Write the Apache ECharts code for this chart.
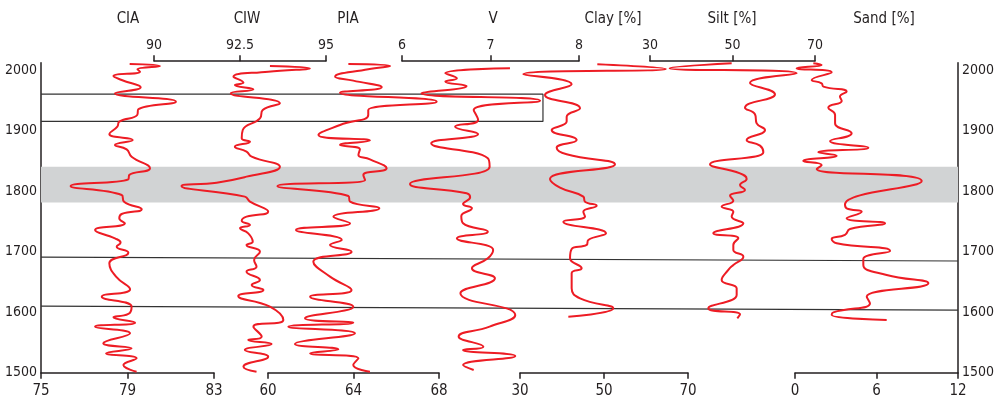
<!DOCTYPE html>
<html><head><meta charset="utf-8">
<script src="https://cdn.jsdelivr.net/npm/echarts@6/dist/echarts.min.js"></script>
<style>html,body{margin:0;padding:0;background:#fff}#c{width:994px;height:401px}</style>
</head><body><div id="c"></div>
<script>
// ---- data: [year, value] ----
const cia = [[2010,79.1],[2006.6,80.5],[2001,79.46],[1997,79.58],[1990,78.35],[1983.5,78.73],[1971.4,79.61],[1961.5,78.42],[1947.7,81.24],[1935,79.5],[1925.6,79.45],[1914.6,78.62],[1906.4,78.53],[1894.3,78.16],[1884.4,79.24],[1876.1,78.42],[1868.9,78.96],[1856.8,79.19],[1837.5,80.04],[1826.5,79.08],[1819.4,79.04],[1808.4,76.37],[1793.5,78.73],[1782.5,78.84],[1769.8,79.66],[1762.1,78.73],[1755,78.62],[1746.7,78.88],[1735.7,77.5],[1721.9,78.42],[1714.8,78.68],[1708.2,78.5],[1698.3,79.04],[1680.6,78.16],[1658.6,78.47],[1637.7,79.12],[1625.6,77.81],[1609.1,79.19],[1597,79.04],[1591.5,78.35],[1582.6,79.35],[1576,77.5],[1565,79.12],[1548.5,77.88],[1540.2,79.19],[1532,78.01],[1523.7,79.42],[1512.7,78.81],[1501.7,79.42]];
const ciw = [[2006.6,93.37],[2002.7,94.53],[1997.2,93.32],[1989,92.31],[1979.1,92.6],[1975.2,92.35],[1968,92.89],[1961.5,92.23],[1944.9,93.66],[1933.9,93.16],[1920.1,93.08],[1900.9,92.58],[1887.1,92.55],[1881.6,92.79],[1873.3,92.35],[1865.1,92.69],[1856.8,92.84],[1840.3,93.66],[1823.8,92.69],[1813.9,91.82],[1808.4,90.8],[1790.8,92.64],[1782.5,92.79],[1766,93.32],[1757.7,92.69],[1751.1,92.55],[1744,92.79],[1738.4,92.5],[1730.2,92.74],[1716.4,92.87],[1710.9,92.69],[1699.9,93.08],[1686.1,92.91],[1675.1,92.98],[1666.9,92.69],[1653.1,93.08],[1644.9,92.84],[1636.6,93.18],[1626.7,92.45],[1609.1,93.37],[1587,93.76],[1576,92.89],[1559.5,93.13],[1554,92.74],[1547.4,93.42],[1537.5,92.64],[1526.5,93.32],[1510,92.6],[1501.7,92.98]];
const pia = [[2009.9,63.76],[2006.6,65.71],[2001.1,64.69],[1989,63.14],[1982.4,63.99],[1971.4,65.32],[1962.5,63.37],[1947.7,67.89],[1933.9,64.69],[1925.6,64.69],[1909.1,63.37],[1892.6,62.36],[1883.3,64.77],[1876.1,63.37],[1868.9,64.3],[1859.6,64.23],[1852.4,64.77],[1837.5,65.55],[1826.5,64.46],[1818.3,64.54],[1808.4,60.44],[1791.9,63.76],[1782.5,63.84],[1771.5,65.21],[1757.7,63.06],[1746.7,63.84],[1735.7,61.31],[1719.2,63.45],[1710.9,62.9],[1699.9,63.91],[1683.4,62.12],[1658.6,62.9],[1636.6,63.91],[1625.6,61.97],[1609.1,63.99],[1589.8,61.73],[1582.6,63.99],[1576,60.95],[1565,64.07],[1547.4,61.26],[1538.6,63.29],[1532,61.97],[1523.7,64.23],[1512.7,63.99],[1501.7,64.77]];
const v = [[2002.7,7.22],[1994.5,6.49],[1986.2,6.62],[1980.7,6.49],[1973.6,6.73],[1961.5,6.22],[1949.3,7.56],[1933.9,6.81],[1917.4,6.86],[1906.4,6.6],[1894.3,6.86],[1878.9,6.33],[1854.1,6.97],[1840.3,6.99],[1811.7,6.09],[1796.3,6.73],[1789.7,6.77],[1778.6,6.69],[1771.5,6.79],[1758.8,6.67],[1746.7,6.69],[1733,6.97],[1721.9,6.62],[1702.7,7.03],[1688.9,6.97],[1672.4,6.79],[1655.9,7.05],[1631.1,6.66],[1595.3,7.28],[1576,6.99],[1559.5,6.64],[1543,6.92],[1537.5,6.69],[1527.6,7.28],[1512.7,6.69],[1504.4,6.81]];
const clay = [[2009.4,48.41],[2001.7,64.69],[1992.9,30.79],[1976.3,42.3],[1958.7,35.95],[1936.7,44.29],[1922.9,41.11],[1914.7,41.11],[1900.9,37.54],[1884.4,43.49],[1871.7,38.73],[1860.7,41.11],[1844.2,52.62],[1820,37.14],[1805.7,39.52],[1790.8,45.08],[1782.5,45.48],[1775.9,48.25],[1766,45.08],[1757.8,45.48],[1749.5,40.32],[1730.2,50.48],[1719.2,46.27],[1711,45.87],[1704.3,42.3],[1688.9,41.91],[1672.4,44.68],[1664.2,42.3],[1639.4,42.3],[1622.9,44.29],[1606.3,52.22],[1592.6,41.51]];
const silt = [[2011,49.8],[2002.8,34.77],[1994.5,65.56],[1978.6,54.24],[1959.8,60.3],[1937.8,53.03],[1926.8,55.45],[1911.9,55.86],[1900.9,57.88],[1884.4,53.43],[1875,56.67],[1864,57.48],[1844.2,44.55],[1829.3,51.82],[1820,53.43],[1810.1,51.82],[1801.8,53.03],[1792.4,49.4],[1784.2,50.2],[1774.3,47.37],[1766,50.2],[1757.8,49.8],[1746.7,52.63],[1730.2,45.35],[1722,51.41],[1711,50.2],[1702.7,50.2],[1691.7,52.63],[1677.9,50.2],[1669.7,48.99],[1653.1,47.37],[1639.4,51.01],[1628.4,51.01],[1606.3,44.14],[1596.4,51.82],[1589.8,51.17]];
const sand = [[2011,1.35],[2008.3,1.96],[2002.8,0.12],[1996.2,2.7],[1983.5,1.23],[1978,1.96],[1972.5,2.09],[1964.2,3.8],[1956,3.31],[1948.8,3.44],[1937.8,2.45],[1925.7,2.95],[1911.9,2.95],[1895.4,4.17],[1882.7,2.58],[1871.7,5.4],[1864,1.72],[1858.5,3.07],[1849.7,0.61],[1843.1,1.96],[1836.5,1.6],[1816.7,9.33],[1778.1,3.68],[1771.5,3.8],[1766,4.91],[1755,3.8],[1746.7,6.63],[1737.4,4.05],[1727.5,3.68],[1720.9,2.7],[1713.7,3.07],[1701.1,7.0],[1687.8,5.03],[1677.9,5.03],[1661.4,6.75],[1647.6,9.82],[1625.6,5.28],[1614.6,5.52],[1599.7,2.82],[1595.3,2.7],[1587.1,6.75]];

// axis tick labels
const yTicks = [1500, 1600, 1700, 1800, 1900, 2000];
const ciaTicks = [75, 79, 83];
const ciwTicks = [90, 92.5, 95];
const piaTicks = [60, 64, 68];
const vTicks = [6, 7, 8];
const clayTicks = [30, 50, 70];
const siltTicks = [30, 50, 70];
const sandTicks = [0, 6, 12];
const names = ['CIA', 'CIW', 'PIA', 'V', 'Clay [%]', 'Silt [%]', 'Sand [%]'];

// annotations (years; box right edge as % of plot width)
const bandYears = [1781, 1840];
const boxYears = [1915, 1960];
const boxRightPct = 54.74;
const tie1 = [1691, 1684.5];
const tie2 = [1610, 1603.5];

// ---- layout ----
const FONT = "'Liberation Sans Narrow','DejaVu Sans Condensed','Roboto Condensed','Noto Sans',sans-serif";
const TXT = '#231f20';
const RED = '#ed1c24';
const TOP = 62.7, H = 310, YMIN = 1500, YMAX = 2012;

const panels = [
  {d: cia, ticks: ciaTicks, left: 41, width: 173, pos: 'bottom', name: names[0], nx: 128},
  {d: ciw, ticks: ciwTicks, left: 154, width: 172, pos: 'top', name: names[1], nx: 247},
  {d: pia, ticks: piaTicks, left: 268, width: 171, pos: 'bottom', name: names[2], nx: 348},
  {d: v, ticks: vTicks, left: 402, width: 177, pos: 'top', name: names[3], nx: 493},
  {d: clay, ticks: clayTicks, left: 520, width: 168, pos: 'bottom', name: names[4], nx: 613},
  {d: silt, ticks: siltTicks, left: 650, width: 165, pos: 'top', name: names[5], nx: 732},
  {d: sand, ticks: sandTicks, left: 795, width: 163, pos: 'bottom', name: names[6], nx: 884}
];

const grid = [], xAxis = [], yAxis = [], series = [], graphic = [];
const axLine = {color: TXT, width: 1.5};

panels.forEach((p, i) => {
  grid.push({left: p.left, width: p.width, top: TOP, height: H, outerBoundsMode: 'none', containLabel: false});
  const t = p.ticks;
  const top = p.pos === 'top';
  xAxis.push({
    gridIndex: i, type: 'value', min: t[0], max: t[t.length - 1], position: p.pos,
    offset: top ? 1.5 : 0,
    axisLine: {show: true, onZero: false, lineStyle: axLine},
    axisTick: {show: true, length: 6, customValues: t, lineStyle: axLine},
    axisLabel: {customValues: t, fontFamily: FONT, fontSize: top ? 14 : 15, color: TXT, margin: top ? 9 : 11,
      formatter: val => String(val)},
    splitLine: {show: false}
  });
  const showY = i === 0 || i === 6;
  yAxis.push({
    gridIndex: i, type: 'value', min: YMIN, max: YMAX, show: showY,
    position: i === 6 ? 'right' : 'left',
    axisLine: {show: true, onZero: false, lineStyle: axLine},
    axisTick: {show: false},
    axisLabel: {customValues: yTicks, fontFamily: FONT, fontSize: 14, color: TXT, margin: 4,
      formatter: val => (val % 100 === 0 ? String(val) : '')},
    splitLine: {show: false}
  });
  series.push({
    type: 'line', name: p.name, xAxisIndex: i, yAxisIndex: i,
    data: p.d.map(r => [r[1], r[0]]),
    smooth: 0.5, symbol: 'none', clip: false, z: 5,
    lineStyle: {color: RED, width: 2}
  });
  graphic.push({type: 'text', x: p.nx, y: 19, z: 10,
    style: {text: p.name, font: '15px ' + FONT, fill: TXT, textAlign: 'center', textVerticalAlign: 'middle'}});
});

// full-width annotation grid
const F = panels.length;
grid.push({left: 41, width: 917, top: TOP, height: H, outerBoundsMode: 'none', containLabel: false});
xAxis.push({gridIndex: F, type: 'value', min: 0, max: 100, show: false});
yAxis.push({gridIndex: F, type: 'value', min: YMIN, max: YMAX, show: false});
const annoLine = {color: '#333', width: 1.2};
series.push({
  type: 'line', xAxisIndex: F, yAxisIndex: F, symbol: 'none', z: 3, silent: true,
  data: [[0, boxYears[1]], [boxRightPct, boxYears[1]], [boxRightPct, boxYears[0]], [0, boxYears[0]]],
  lineStyle: annoLine,
  markArea: {silent: true, z: 1, itemStyle: {color: '#d1d3d4'}, data: [[{yAxis: bandYears[0]}, {yAxis: bandYears[1]}]]}
});
[tie1, tie2].forEach(t => series.push({
  type: 'line', xAxisIndex: F, yAxisIndex: F, symbol: 'none', z: 3, silent: true,
  data: [[0, t[0]], [100, t[1]]], lineStyle: annoLine
}));

const chart = echarts.init(document.getElementById('c'), null, {renderer: 'canvas'});
chart.setOption({animation: false, backgroundColor: '#fff', grid, xAxis, yAxis, series, graphic});
</script></body></html>
